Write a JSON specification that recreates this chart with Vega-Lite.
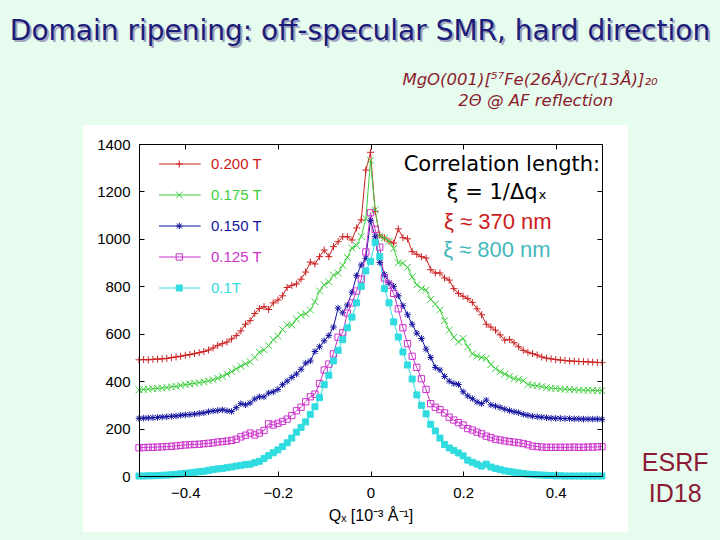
{
"$schema": "https://vega.github.io/schema/vega-lite/v6.json",
"width": 463,
"height": 332,
"autosize": {"type": "none"},
"padding": {"left": 139, "top": 144, "right": 118, "bottom": 64},
"background": "#e6fcef",
"config": {
  "view": {"stroke": null},
  "axis": {"grid": false, "domainColor": "#000000", "domainWidth": 1, "tickColor": "#000000", "tickSize": -5, "tickWidth": 1, "labelColor": "#000000", "labelFont": "Liberation Sans", "labelFontSize": 15, "titleFont": "Liberation Sans", "titleFontSize": 16, "titleFontWeight": "normal", "titleColor": "#000000"},
  "text": {"font": "Liberation Sans"}
},
"datasets": {
  "series": [{"s": "0.200 T"}, {"s": "0.175 T"}, {"s": "0.150 T"}, {"s": "0.125 T"}, {"s": "0.1T"}],
  "scans": [
{"s":"0.200 T","x":-0.5,"y":490},{"s":"0.200 T","x":-0.49,"y":491},{"s":"0.200 T","x":-0.48,"y":490},{"s":"0.200 T","x":-0.47,"y":492},{"s":"0.200 T","x":-0.46,"y":493},{"s":"0.200 T","x":-0.45,"y":494},{"s":"0.200 T","x":-0.44,"y":496},{"s":"0.200 T","x":-0.43,"y":499},{"s":"0.200 T","x":-0.42,"y":502},{"s":"0.200 T","x":-0.41,"y":505},
{"s":"0.200 T","x":-0.4,"y":509},{"s":"0.200 T","x":-0.39,"y":512},{"s":"0.200 T","x":-0.38,"y":516},{"s":"0.200 T","x":-0.37,"y":520},{"s":"0.200 T","x":-0.36,"y":525},{"s":"0.200 T","x":-0.35,"y":531},{"s":"0.200 T","x":-0.34,"y":540},{"s":"0.200 T","x":-0.33,"y":551},{"s":"0.200 T","x":-0.32,"y":558},{"s":"0.200 T","x":-0.31,"y":565},
{"s":"0.200 T","x":-0.3,"y":578},{"s":"0.200 T","x":-0.29,"y":592},{"s":"0.200 T","x":-0.28,"y":612},{"s":"0.200 T","x":-0.27,"y":640},{"s":"0.200 T","x":-0.26,"y":655},{"s":"0.200 T","x":-0.25,"y":685},{"s":"0.200 T","x":-0.24,"y":706},{"s":"0.200 T","x":-0.23,"y":714},{"s":"0.200 T","x":-0.22,"y":702},{"s":"0.200 T","x":-0.21,"y":730},
{"s":"0.200 T","x":-0.2,"y":742},{"s":"0.200 T","x":-0.19,"y":760},{"s":"0.200 T","x":-0.18,"y":795},{"s":"0.200 T","x":-0.17,"y":804},{"s":"0.200 T","x":-0.16,"y":810},{"s":"0.200 T","x":-0.15,"y":830},{"s":"0.200 T","x":-0.14,"y":860},{"s":"0.200 T","x":-0.13,"y":902},{"s":"0.200 T","x":-0.12,"y":894},{"s":"0.200 T","x":-0.11,"y":925},
{"s":"0.200 T","x":-0.1,"y":953},{"s":"0.200 T","x":-0.09,"y":925},{"s":"0.200 T","x":-0.08,"y":967},{"s":"0.200 T","x":-0.07,"y":988},{"s":"0.200 T","x":-0.06,"y":1009},{"s":"0.200 T","x":-0.05,"y":1009},{"s":"0.200 T","x":-0.04,"y":995},{"s":"0.200 T","x":-0.03,"y":1046},{"s":"0.200 T","x":-0.02,"y":1080},{"s":"0.200 T","x":-0.01,"y":1290},
{"s":"0.200 T","x":0,"y":1365},
{"s":"0.200 T","x":0.01,"y":1117},{"s":"0.200 T","x":0.02,"y":1016},{"s":"0.200 T","x":0.03,"y":1004},{"s":"0.200 T","x":0.04,"y":990},{"s":"0.200 T","x":0.05,"y":982},{"s":"0.200 T","x":0.06,"y":1042},{"s":"0.200 T","x":0.07,"y":1005},{"s":"0.200 T","x":0.08,"y":1000},{"s":"0.200 T","x":0.09,"y":946},{"s":"0.200 T","x":0.1,"y":935},
{"s":"0.200 T","x":0.11,"y":925},{"s":"0.200 T","x":0.12,"y":919},{"s":"0.200 T","x":0.13,"y":870},{"s":"0.200 T","x":0.14,"y":856},{"s":"0.200 T","x":0.15,"y":856},{"s":"0.200 T","x":0.16,"y":835},{"s":"0.200 T","x":0.17,"y":826},{"s":"0.200 T","x":0.18,"y":790},{"s":"0.200 T","x":0.19,"y":770},{"s":"0.200 T","x":0.2,"y":758},
{"s":"0.200 T","x":0.21,"y":748},{"s":"0.200 T","x":0.22,"y":732},{"s":"0.200 T","x":0.23,"y":705},{"s":"0.200 T","x":0.24,"y":680},{"s":"0.200 T","x":0.25,"y":640},{"s":"0.200 T","x":0.26,"y":628},{"s":"0.200 T","x":0.27,"y":615},{"s":"0.200 T","x":0.28,"y":595},{"s":"0.200 T","x":0.29,"y":573},{"s":"0.200 T","x":0.3,"y":576},
{"s":"0.200 T","x":0.31,"y":562},{"s":"0.200 T","x":0.32,"y":545},{"s":"0.200 T","x":0.33,"y":530},{"s":"0.200 T","x":0.34,"y":522},{"s":"0.200 T","x":0.35,"y":516},{"s":"0.200 T","x":0.36,"y":510},{"s":"0.200 T","x":0.37,"y":502},{"s":"0.200 T","x":0.38,"y":497},{"s":"0.200 T","x":0.39,"y":494},{"s":"0.200 T","x":0.4,"y":491},
{"s":"0.200 T","x":0.41,"y":489},{"s":"0.200 T","x":0.42,"y":487},{"s":"0.200 T","x":0.43,"y":485},{"s":"0.200 T","x":0.44,"y":484},{"s":"0.200 T","x":0.45,"y":483},{"s":"0.200 T","x":0.46,"y":482},{"s":"0.200 T","x":0.47,"y":481},{"s":"0.200 T","x":0.48,"y":480},{"s":"0.200 T","x":0.49,"y":479},{"s":"0.200 T","x":0.5,"y":478},

{"s":"0.175 T","x":-0.5,"y":363},{"s":"0.175 T","x":-0.49,"y":365},{"s":"0.175 T","x":-0.48,"y":366},{"s":"0.175 T","x":-0.47,"y":368},{"s":"0.175 T","x":-0.46,"y":370},{"s":"0.175 T","x":-0.45,"y":371},{"s":"0.175 T","x":-0.44,"y":373},{"s":"0.175 T","x":-0.43,"y":376},{"s":"0.175 T","x":-0.42,"y":378},{"s":"0.175 T","x":-0.41,"y":382},
{"s":"0.175 T","x":-0.4,"y":385},{"s":"0.175 T","x":-0.39,"y":388},{"s":"0.175 T","x":-0.38,"y":391},{"s":"0.175 T","x":-0.37,"y":394},{"s":"0.175 T","x":-0.36,"y":397},{"s":"0.175 T","x":-0.35,"y":401},{"s":"0.175 T","x":-0.34,"y":406},{"s":"0.175 T","x":-0.33,"y":412},{"s":"0.175 T","x":-0.32,"y":420},{"s":"0.175 T","x":-0.31,"y":430},
{"s":"0.175 T","x":-0.3,"y":440},{"s":"0.175 T","x":-0.29,"y":452},{"s":"0.175 T","x":-0.28,"y":463},{"s":"0.175 T","x":-0.27,"y":473},{"s":"0.175 T","x":-0.26,"y":482},{"s":"0.175 T","x":-0.25,"y":500},{"s":"0.175 T","x":-0.24,"y":522},{"s":"0.175 T","x":-0.23,"y":532},{"s":"0.175 T","x":-0.22,"y":550},{"s":"0.175 T","x":-0.21,"y":575},
{"s":"0.175 T","x":-0.2,"y":590},{"s":"0.175 T","x":-0.19,"y":618},{"s":"0.175 T","x":-0.18,"y":637},{"s":"0.175 T","x":-0.17,"y":637},{"s":"0.175 T","x":-0.16,"y":662},{"s":"0.175 T","x":-0.15,"y":678},{"s":"0.175 T","x":-0.14,"y":684},{"s":"0.175 T","x":-0.13,"y":700},{"s":"0.175 T","x":-0.12,"y":735},{"s":"0.175 T","x":-0.11,"y":780},
{"s":"0.175 T","x":-0.1,"y":806},{"s":"0.175 T","x":-0.09,"y":818},{"s":"0.175 T","x":-0.08,"y":847},{"s":"0.175 T","x":-0.07,"y":856},{"s":"0.175 T","x":-0.06,"y":888},{"s":"0.175 T","x":-0.05,"y":922},{"s":"0.175 T","x":-0.04,"y":962},{"s":"0.175 T","x":-0.03,"y":972},{"s":"0.175 T","x":-0.02,"y":1010},{"s":"0.175 T","x":-0.01,"y":1085},
{"s":"0.175 T","x":0,"y":1330},
{"s":"0.175 T","x":0.01,"y":1122},{"s":"0.175 T","x":0.02,"y":1010},{"s":"0.175 T","x":0.03,"y":1004},{"s":"0.175 T","x":0.04,"y":990},{"s":"0.175 T","x":0.05,"y":960},{"s":"0.175 T","x":0.06,"y":899},{"s":"0.175 T","x":0.07,"y":897},{"s":"0.175 T","x":0.08,"y":880},{"s":"0.175 T","x":0.09,"y":840},{"s":"0.175 T","x":0.1,"y":806},
{"s":"0.175 T","x":0.11,"y":791},{"s":"0.175 T","x":0.12,"y":784},{"s":"0.175 T","x":0.13,"y":745},{"s":"0.175 T","x":0.14,"y":725},{"s":"0.175 T","x":0.15,"y":700},{"s":"0.175 T","x":0.16,"y":655},{"s":"0.175 T","x":0.17,"y":615},{"s":"0.175 T","x":0.18,"y":585},{"s":"0.175 T","x":0.19,"y":565},{"s":"0.175 T","x":0.2,"y":580},
{"s":"0.175 T","x":0.21,"y":545},{"s":"0.175 T","x":0.22,"y":515},{"s":"0.175 T","x":0.23,"y":505},{"s":"0.175 T","x":0.24,"y":500},{"s":"0.175 T","x":0.25,"y":496},{"s":"0.175 T","x":0.26,"y":470},{"s":"0.175 T","x":0.27,"y":453},{"s":"0.175 T","x":0.28,"y":440},{"s":"0.175 T","x":0.29,"y":430},{"s":"0.175 T","x":0.3,"y":420},
{"s":"0.175 T","x":0.31,"y":411},{"s":"0.175 T","x":0.32,"y":407},{"s":"0.175 T","x":0.33,"y":402},{"s":"0.175 T","x":0.34,"y":386},{"s":"0.175 T","x":0.35,"y":383},{"s":"0.175 T","x":0.36,"y":380},{"s":"0.175 T","x":0.37,"y":377},{"s":"0.175 T","x":0.38,"y":373},{"s":"0.175 T","x":0.39,"y":370},{"s":"0.175 T","x":0.4,"y":369},
{"s":"0.175 T","x":0.41,"y":367},{"s":"0.175 T","x":0.42,"y":366},{"s":"0.175 T","x":0.43,"y":365},{"s":"0.175 T","x":0.44,"y":364},{"s":"0.175 T","x":0.45,"y":363},{"s":"0.175 T","x":0.46,"y":362},{"s":"0.175 T","x":0.47,"y":362},{"s":"0.175 T","x":0.48,"y":361},{"s":"0.175 T","x":0.49,"y":360},{"s":"0.175 T","x":0.5,"y":360},

{"s":"0.150 T","x":-0.5,"y":243},{"s":"0.150 T","x":-0.49,"y":244},{"s":"0.150 T","x":-0.48,"y":245},{"s":"0.150 T","x":-0.47,"y":246},{"s":"0.150 T","x":-0.46,"y":247},{"s":"0.150 T","x":-0.45,"y":249},{"s":"0.150 T","x":-0.44,"y":250},{"s":"0.150 T","x":-0.43,"y":252},{"s":"0.150 T","x":-0.42,"y":253},{"s":"0.150 T","x":-0.41,"y":256},
{"s":"0.150 T","x":-0.4,"y":258},{"s":"0.150 T","x":-0.39,"y":259},{"s":"0.150 T","x":-0.38,"y":261},{"s":"0.150 T","x":-0.37,"y":264},{"s":"0.150 T","x":-0.36,"y":266},{"s":"0.150 T","x":-0.35,"y":271},{"s":"0.150 T","x":-0.34,"y":274},{"s":"0.150 T","x":-0.33,"y":276},{"s":"0.150 T","x":-0.32,"y":279},{"s":"0.150 T","x":-0.31,"y":275},
{"s":"0.150 T","x":-0.3,"y":272},{"s":"0.150 T","x":-0.29,"y":288},{"s":"0.150 T","x":-0.28,"y":305},{"s":"0.150 T","x":-0.27,"y":300},{"s":"0.150 T","x":-0.26,"y":308},{"s":"0.150 T","x":-0.25,"y":325},{"s":"0.150 T","x":-0.24,"y":334},{"s":"0.150 T","x":-0.23,"y":334},{"s":"0.150 T","x":-0.22,"y":350},{"s":"0.150 T","x":-0.21,"y":355},
{"s":"0.150 T","x":-0.2,"y":365},{"s":"0.150 T","x":-0.19,"y":385},{"s":"0.150 T","x":-0.18,"y":400},{"s":"0.150 T","x":-0.17,"y":416},{"s":"0.150 T","x":-0.16,"y":430},{"s":"0.150 T","x":-0.15,"y":450},{"s":"0.150 T","x":-0.14,"y":476},{"s":"0.150 T","x":-0.13,"y":485},{"s":"0.150 T","x":-0.12,"y":525},{"s":"0.150 T","x":-0.11,"y":545},
{"s":"0.150 T","x":-0.1,"y":570},{"s":"0.150 T","x":-0.09,"y":592},{"s":"0.150 T","x":-0.08,"y":628},{"s":"0.150 T","x":-0.07,"y":708},{"s":"0.150 T","x":-0.06,"y":688},{"s":"0.150 T","x":-0.05,"y":721},{"s":"0.150 T","x":-0.04,"y":775},{"s":"0.150 T","x":-0.03,"y":845},{"s":"0.150 T","x":-0.02,"y":890},{"s":"0.150 T","x":-0.01,"y":918},
{"s":"0.150 T","x":0,"y":1078},
{"s":"0.150 T","x":0.01,"y":1009},{"s":"0.150 T","x":0.02,"y":900},{"s":"0.150 T","x":0.03,"y":850},{"s":"0.150 T","x":0.04,"y":815},{"s":"0.150 T","x":0.05,"y":800},{"s":"0.150 T","x":0.06,"y":760},{"s":"0.150 T","x":0.07,"y":718},{"s":"0.150 T","x":0.08,"y":680},{"s":"0.150 T","x":0.09,"y":640},{"s":"0.150 T","x":0.1,"y":602},
{"s":"0.150 T","x":0.11,"y":580},{"s":"0.150 T","x":0.12,"y":535},{"s":"0.150 T","x":0.13,"y":500},{"s":"0.150 T","x":0.14,"y":458},{"s":"0.150 T","x":0.15,"y":447},{"s":"0.150 T","x":0.16,"y":420},{"s":"0.150 T","x":0.17,"y":400},{"s":"0.150 T","x":0.18,"y":390},{"s":"0.150 T","x":0.19,"y":386},{"s":"0.150 T","x":0.2,"y":355},
{"s":"0.150 T","x":0.21,"y":338},{"s":"0.150 T","x":0.22,"y":326},{"s":"0.150 T","x":0.23,"y":312},{"s":"0.150 T","x":0.24,"y":305},{"s":"0.150 T","x":0.25,"y":320},{"s":"0.150 T","x":0.26,"y":300},{"s":"0.150 T","x":0.27,"y":295},{"s":"0.150 T","x":0.28,"y":289},{"s":"0.150 T","x":0.29,"y":282},{"s":"0.150 T","x":0.3,"y":276},
{"s":"0.150 T","x":0.31,"y":271},{"s":"0.150 T","x":0.32,"y":267},{"s":"0.150 T","x":0.33,"y":260},{"s":"0.150 T","x":0.34,"y":256},{"s":"0.150 T","x":0.35,"y":252},{"s":"0.150 T","x":0.36,"y":250},{"s":"0.150 T","x":0.37,"y":248},{"s":"0.150 T","x":0.38,"y":246},{"s":"0.150 T","x":0.39,"y":244},{"s":"0.150 T","x":0.4,"y":243},
{"s":"0.150 T","x":0.41,"y":243},{"s":"0.150 T","x":0.42,"y":242},{"s":"0.150 T","x":0.43,"y":242},{"s":"0.150 T","x":0.44,"y":241},{"s":"0.150 T","x":0.45,"y":241},{"s":"0.150 T","x":0.46,"y":240},{"s":"0.150 T","x":0.47,"y":240},{"s":"0.150 T","x":0.48,"y":240},{"s":"0.150 T","x":0.49,"y":240},{"s":"0.150 T","x":0.5,"y":239},

{"s":"0.125 T","x":-0.5,"y":119},{"s":"0.125 T","x":-0.49,"y":120},{"s":"0.125 T","x":-0.48,"y":121},{"s":"0.125 T","x":-0.47,"y":121},{"s":"0.125 T","x":-0.46,"y":122},{"s":"0.125 T","x":-0.45,"y":123},{"s":"0.125 T","x":-0.44,"y":124},{"s":"0.125 T","x":-0.43,"y":125},{"s":"0.125 T","x":-0.42,"y":127},{"s":"0.125 T","x":-0.41,"y":129},
{"s":"0.125 T","x":-0.4,"y":131},{"s":"0.125 T","x":-0.39,"y":132},{"s":"0.125 T","x":-0.38,"y":133},{"s":"0.125 T","x":-0.37,"y":134},{"s":"0.125 T","x":-0.36,"y":136},{"s":"0.125 T","x":-0.35,"y":138},{"s":"0.125 T","x":-0.34,"y":140},{"s":"0.125 T","x":-0.33,"y":143},{"s":"0.125 T","x":-0.32,"y":145},{"s":"0.125 T","x":-0.31,"y":147},
{"s":"0.125 T","x":-0.3,"y":150},{"s":"0.125 T","x":-0.29,"y":155},{"s":"0.125 T","x":-0.28,"y":165},{"s":"0.125 T","x":-0.27,"y":172},{"s":"0.125 T","x":-0.26,"y":181},{"s":"0.125 T","x":-0.25,"y":173},{"s":"0.125 T","x":-0.24,"y":181},{"s":"0.125 T","x":-0.23,"y":192},{"s":"0.125 T","x":-0.22,"y":220},{"s":"0.125 T","x":-0.21,"y":215},
{"s":"0.125 T","x":-0.2,"y":222},{"s":"0.125 T","x":-0.19,"y":230},{"s":"0.125 T","x":-0.18,"y":240},{"s":"0.125 T","x":-0.17,"y":255},{"s":"0.125 T","x":-0.16,"y":275},{"s":"0.125 T","x":-0.15,"y":290},{"s":"0.125 T","x":-0.14,"y":313},{"s":"0.125 T","x":-0.13,"y":334},{"s":"0.125 T","x":-0.12,"y":345},{"s":"0.125 T","x":-0.11,"y":390},
{"s":"0.125 T","x":-0.1,"y":447},{"s":"0.125 T","x":-0.09,"y":472},{"s":"0.125 T","x":-0.08,"y":515},{"s":"0.125 T","x":-0.07,"y":585},{"s":"0.125 T","x":-0.06,"y":604},{"s":"0.125 T","x":-0.05,"y":687},{"s":"0.125 T","x":-0.04,"y":730},{"s":"0.125 T","x":-0.03,"y":780},{"s":"0.125 T","x":-0.02,"y":830},{"s":"0.125 T","x":-0.01,"y":945},
{"s":"0.125 T","x":0,"y":1110},
{"s":"0.125 T","x":0.01,"y":1040},{"s":"0.125 T","x":0.02,"y":965},{"s":"0.125 T","x":0.03,"y":835},{"s":"0.125 T","x":0.04,"y":805},{"s":"0.125 T","x":0.05,"y":770},{"s":"0.125 T","x":0.06,"y":705},{"s":"0.125 T","x":0.07,"y":625},{"s":"0.125 T","x":0.08,"y":558},{"s":"0.125 T","x":0.09,"y":505},{"s":"0.125 T","x":0.1,"y":458},
{"s":"0.125 T","x":0.11,"y":410},{"s":"0.125 T","x":0.12,"y":365},{"s":"0.125 T","x":0.13,"y":305},{"s":"0.125 T","x":0.14,"y":290},{"s":"0.125 T","x":0.15,"y":280},{"s":"0.125 T","x":0.16,"y":266},{"s":"0.125 T","x":0.17,"y":248},{"s":"0.125 T","x":0.18,"y":236},{"s":"0.125 T","x":0.19,"y":225},{"s":"0.125 T","x":0.2,"y":215},
{"s":"0.125 T","x":0.21,"y":200},{"s":"0.125 T","x":0.22,"y":194},{"s":"0.125 T","x":0.23,"y":185},{"s":"0.125 T","x":0.24,"y":178},{"s":"0.125 T","x":0.25,"y":168},{"s":"0.125 T","x":0.26,"y":162},{"s":"0.125 T","x":0.27,"y":155},{"s":"0.125 T","x":0.28,"y":152},{"s":"0.125 T","x":0.29,"y":148},{"s":"0.125 T","x":0.3,"y":145},
{"s":"0.125 T","x":0.31,"y":143},{"s":"0.125 T","x":0.32,"y":140},{"s":"0.125 T","x":0.33,"y":137},{"s":"0.125 T","x":0.34,"y":132},{"s":"0.125 T","x":0.35,"y":126},{"s":"0.125 T","x":0.36,"y":124},{"s":"0.125 T","x":0.37,"y":122},{"s":"0.125 T","x":0.38,"y":121},{"s":"0.125 T","x":0.39,"y":121},{"s":"0.125 T","x":0.4,"y":121},
{"s":"0.125 T","x":0.41,"y":121},{"s":"0.125 T","x":0.42,"y":121},{"s":"0.125 T","x":0.43,"y":121},{"s":"0.125 T","x":0.44,"y":122},{"s":"0.125 T","x":0.45,"y":121},{"s":"0.125 T","x":0.46,"y":121},{"s":"0.125 T","x":0.47,"y":122},{"s":"0.125 T","x":0.48,"y":122},{"s":"0.125 T","x":0.49,"y":123},{"s":"0.125 T","x":0.5,"y":124},

{"s":"0.1T","x":-0.5,"y":0},{"s":"0.1T","x":-0.49,"y":0},{"s":"0.1T","x":-0.48,"y":1},{"s":"0.1T","x":-0.47,"y":1},{"s":"0.1T","x":-0.46,"y":2},{"s":"0.1T","x":-0.45,"y":3},{"s":"0.1T","x":-0.44,"y":4},{"s":"0.1T","x":-0.43,"y":5},{"s":"0.1T","x":-0.42,"y":7},{"s":"0.1T","x":-0.41,"y":9},
{"s":"0.1T","x":-0.4,"y":11},{"s":"0.1T","x":-0.39,"y":13},{"s":"0.1T","x":-0.38,"y":16},{"s":"0.1T","x":-0.37,"y":18},{"s":"0.1T","x":-0.36,"y":20},{"s":"0.1T","x":-0.35,"y":24},{"s":"0.1T","x":-0.34,"y":27},{"s":"0.1T","x":-0.33,"y":30},{"s":"0.1T","x":-0.32,"y":32},{"s":"0.1T","x":-0.31,"y":35},
{"s":"0.1T","x":-0.3,"y":38},{"s":"0.1T","x":-0.29,"y":42},{"s":"0.1T","x":-0.28,"y":45},{"s":"0.1T","x":-0.27,"y":48},{"s":"0.1T","x":-0.26,"y":50},{"s":"0.1T","x":-0.25,"y":56},{"s":"0.1T","x":-0.24,"y":62},{"s":"0.1T","x":-0.23,"y":74},{"s":"0.1T","x":-0.22,"y":86},{"s":"0.1T","x":-0.21,"y":98},
{"s":"0.1T","x":-0.2,"y":110},{"s":"0.1T","x":-0.19,"y":124},{"s":"0.1T","x":-0.18,"y":140},{"s":"0.1T","x":-0.17,"y":160},{"s":"0.1T","x":-0.16,"y":185},{"s":"0.1T","x":-0.15,"y":205},{"s":"0.1T","x":-0.14,"y":228},{"s":"0.1T","x":-0.13,"y":260},{"s":"0.1T","x":-0.12,"y":292},{"s":"0.1T","x":-0.11,"y":330},
{"s":"0.1T","x":-0.1,"y":385},{"s":"0.1T","x":-0.09,"y":425},{"s":"0.1T","x":-0.08,"y":485},{"s":"0.1T","x":-0.07,"y":530},{"s":"0.1T","x":-0.06,"y":575},{"s":"0.1T","x":-0.05,"y":625},{"s":"0.1T","x":-0.04,"y":670},{"s":"0.1T","x":-0.03,"y":730},{"s":"0.1T","x":-0.02,"y":800},{"s":"0.1T","x":-0.01,"y":865},
{"s":"0.1T","x":0,"y":905},
{"s":"0.1T","x":0.01,"y":985},{"s":"0.1T","x":0.02,"y":925},{"s":"0.1T","x":0.03,"y":790},{"s":"0.1T","x":0.04,"y":730},{"s":"0.1T","x":0.05,"y":650},{"s":"0.1T","x":0.06,"y":586},{"s":"0.1T","x":0.07,"y":523},{"s":"0.1T","x":0.08,"y":468},{"s":"0.1T","x":0.09,"y":409},{"s":"0.1T","x":0.1,"y":342},
{"s":"0.1T","x":0.11,"y":298},{"s":"0.1T","x":0.12,"y":262},{"s":"0.1T","x":0.13,"y":218},{"s":"0.1T","x":0.14,"y":190},{"s":"0.1T","x":0.15,"y":160},{"s":"0.1T","x":0.16,"y":133},{"s":"0.1T","x":0.17,"y":118},{"s":"0.1T","x":0.18,"y":108},{"s":"0.1T","x":0.19,"y":97},{"s":"0.1T","x":0.2,"y":85},
{"s":"0.1T","x":0.21,"y":67},{"s":"0.1T","x":0.22,"y":58},{"s":"0.1T","x":0.23,"y":50},{"s":"0.1T","x":0.24,"y":42},{"s":"0.1T","x":0.25,"y":50},{"s":"0.1T","x":0.26,"y":38},{"s":"0.1T","x":0.27,"y":32},{"s":"0.1T","x":0.28,"y":27},{"s":"0.1T","x":0.29,"y":22},{"s":"0.1T","x":0.3,"y":19},
{"s":"0.1T","x":0.31,"y":16},{"s":"0.1T","x":0.32,"y":13},{"s":"0.1T","x":0.33,"y":10},{"s":"0.1T","x":0.34,"y":8},{"s":"0.1T","x":0.35,"y":6},{"s":"0.1T","x":0.36,"y":5},{"s":"0.1T","x":0.37,"y":4},{"s":"0.1T","x":0.38,"y":3},{"s":"0.1T","x":0.39,"y":2},{"s":"0.1T","x":0.4,"y":1},
{"s":"0.1T","x":0.41,"y":1},{"s":"0.1T","x":0.42,"y":0},{"s":"0.1T","x":0.43,"y":0},{"s":"0.1T","x":0.44,"y":0},{"s":"0.1T","x":0.45,"y":0},{"s":"0.1T","x":0.46,"y":0},{"s":"0.1T","x":0.47,"y":0},{"s":"0.1T","x":0.48,"y":0},{"s":"0.1T","x":0.49,"y":0},{"s":"0.1T","x":0.5,"y":0}
  ]
},
"layer": [
  {
    "layer": [
      {
        "data": {"values": [{}]},
        "mark": {"type": "rect", "fill": "#ffffff"},
        "encoding": {
          "x": {"datum": -0.621, "type": "quantitative", "axis": null},
          "x2": {"datum": 0.556},
          "y": {"datum": -236, "type": "quantitative", "axis": null},
          "y2": {"datum": 1480}
        }
      },
      {
        "data": {"name": "scans"},
        "mark": {"type": "line", "strokeWidth": 1},
        "encoding": {
          "x": {"field": "x", "type": "quantitative", "scale": {"domain": [-0.5, 0.5], "nice": false, "zero": false},
                "axis": {"orient": "bottom", "zindex": 2, "values": [-0.4, -0.2, 0, 0.2, 0.4], "labelExpr": "datum.value == 0 ? '0' : format(datum.value, '.1f')", "labelPadding": 14, "title": "Qₓ [10⁻³ Å⁻¹]", "titlePadding": 7}},
          "y": {"field": "y", "type": "quantitative", "scale": {"domain": [0, 1400], "nice": false},
                "axis": {"orient": "left", "zindex": 2, "values": [0, 200, 400, 600, 800, 1000, 1200, 1400], "format": "d", "labelPadding": 14, "title": null}},
          "color": {"field": "s", "type": "nominal", "scale": {"domain": ["0.200 T", "0.175 T", "0.150 T", "0.125 T", "0.1T"], "range": ["#cc2020", "#3fcf3f", "#1414a0", "#cc33cc", "#30dce0"]}, "legend": null}
        }
      },
      {
        "data": {"name": "scans"},
        "mark": {"type": "point", "filled": false, "strokeWidth": 1, "opacity": 1},
        "encoding": {
          "x": {"field": "x", "type": "quantitative", "axis": {"orient": "top", "zindex": 2, "values": [-0.4, -0.2, 0, 0.2, 0.4], "labels": false, "title": null}},
          "y": {"field": "y", "type": "quantitative", "axis": {"orient": "right", "zindex": 2, "values": [0, 200, 400, 600, 800, 1000, 1200, 1400], "labels": false, "title": null}},
          "color": {"field": "s", "type": "nominal", "legend": null},
          "shape": {"field": "s", "type": "nominal", "scale": {"domain": ["0.200 T", "0.175 T", "0.150 T", "0.125 T", "0.1T"], "range": ["M-1,0H1M0,-1V1", "M-1,-1L1,1M-1,1L1,-1", "M-1,0H1M0,-1V1M-0.75,-0.75L0.75,0.75M-0.75,0.75L0.75,-0.75", "square", "square"]}, "legend": null},
          "fill": {"field": "s", "type": "nominal", "scale": {"domain": ["0.200 T", "0.175 T", "0.150 T", "0.125 T", "0.1T"], "range": ["transparent", "transparent", "transparent", "transparent", "#30dce0"]}, "legend": null},
          "size": {"field": "s", "type": "nominal", "scale": {"domain": ["0.200 T", "0.175 T", "0.150 T", "0.125 T", "0.1T"], "range": [49, 36, 30, 36, 28]}, "legend": null}
        }
      },
      {
        "data": {"values": [{}]},
        "mark": {"type": "text", "font": "DejaVu Sans", "fontSize": 28, "fill": "#a4a4bc", "align": "center", "baseline": "middle", "dx": 2, "dy": 2},
        "encoding": {"x": {"datum": -0.0227, "type": "quantitative", "axis": null}, "y": {"datum": 1872, "type": "quantitative", "axis": null}, "text": {"value": "Domain ripening: off-specular SMR, hard direction"}}
      },
      {
        "data": {"values": [{}]},
        "mark": {"type": "text", "font": "DejaVu Sans", "fontSize": 28, "fill": "#1c1c7a", "align": "center", "baseline": "middle"},
        "encoding": {"x": {"datum": -0.0227, "type": "quantitative", "axis": null}, "y": {"datum": 1872, "type": "quantitative", "axis": null}, "text": {"value": "Domain ripening: off-specular SMR, hard direction"}}
      },
      {
        "data": {"values": [{}]},
        "mark": {"type": "text", "font": "DejaVu Sans", "fontSize": 16.5, "fontStyle": "italic", "fill": "#8b1c2e", "align": "center", "baseline": "middle"},
        "encoding": {"x": {"datum": 0.3445, "type": "quantitative", "axis": null}, "y": {"datum": 1670, "type": "quantitative", "axis": null}, "text": {"value": "MgO(001)[⁵⁷Fe(26Å)/Cr(13Å)]₂₀"}}
      },
      {
        "data": {"values": [{}]},
        "mark": {"type": "text", "font": "DejaVu Sans", "fontSize": 16.5, "fontStyle": "italic", "fill": "#8b1c2e", "align": "center", "baseline": "middle"},
        "encoding": {"x": {"datum": 0.357, "type": "quantitative", "axis": null}, "y": {"datum": 1581, "type": "quantitative", "axis": null}, "text": {"value": "2Θ @ AF reflection"}}
      },
      {
        "data": {"values": [{}]},
        "mark": {"type": "text", "font": "DejaVu Sans", "fontSize": 21, "fill": "#000000", "align": "right", "baseline": "middle"},
        "encoding": {"x": {"datum": 0.496, "type": "quantitative", "axis": null}, "y": {"datum": 1311, "type": "quantitative", "axis": null}, "text": {"value": "Correlation length:"}}
      },
      {
        "data": {"values": [{}]},
        "mark": {"type": "text", "font": "DejaVu Sans", "fontSize": 21, "fill": "#000000", "align": "center", "baseline": "middle"},
        "encoding": {"x": {"datum": 0.273, "type": "quantitative", "axis": null}, "y": {"datum": 1193, "type": "quantitative", "axis": null}, "text": {"value": "ξ = 1/Δqₓ"}}
      },
      {
        "data": {"values": [{}]},
        "mark": {"type": "text", "font": "Liberation Sans", "fontSize": 22, "fill": "#cc2020", "align": "center", "baseline": "middle"},
        "encoding": {"x": {"datum": 0.275, "type": "quantitative", "axis": null}, "y": {"datum": 1071, "type": "quantitative", "axis": null}, "text": {"value": "ξ ≈ 370 nm"}}
      },
      {
        "data": {"values": [{}]},
        "mark": {"type": "text", "font": "Liberation Sans", "fontSize": 22, "fill": "#45b8bc", "align": "center", "baseline": "middle"},
        "encoding": {"x": {"datum": 0.273, "type": "quantitative", "axis": null}, "y": {"datum": 953, "type": "quantitative", "axis": null}, "text": {"value": "ξ ≈ 800 nm"}}
      },
      {
        "data": {"values": [{}]},
        "mark": {"type": "text", "font": "Liberation Sans", "fontSize": 25, "fill": "#8b1a35", "align": "center", "baseline": "middle"},
        "encoding": {"x": {"datum": 0.658, "type": "quantitative", "axis": null}, "y": {"datum": 55, "type": "quantitative", "axis": null}, "text": {"value": "ESRF"}}
      },
      {
        "data": {"values": [{}]},
        "mark": {"type": "text", "font": "Liberation Sans", "fontSize": 25, "fill": "#8b1a35", "align": "center", "baseline": "middle"},
        "encoding": {"x": {"datum": 0.658, "type": "quantitative", "axis": null}, "y": {"datum": -76, "type": "quantitative", "axis": null}, "text": {"value": "ID18"}}
      }
    ],
    "resolve": {"axis": {"x": "independent", "y": "independent"}}
  },
  {
    "data": {"name": "series"},
    "encoding": {
      "y": {"field": "s", "type": "nominal", "scale": {"type": "point", "domain": ["0.200 T", "0.175 T", "0.150 T", "0.125 T", "0.1T"], "range": [20, 144], "padding": 0}, "axis": null}
    },
    "layer": [
      {
        "mark": {"type": "rule", "strokeWidth": 1},
        "encoding": {
          "x": {"datum": -0.4568, "type": "quantitative", "axis": null},
          "x2": {"datum": -0.3667},
          "color": {"field": "s", "type": "nominal", "legend": null}
        }
      },
      {
        "mark": {"type": "point", "filled": false, "strokeWidth": 1, "opacity": 1},
        "encoding": {
          "x": {"datum": -0.413, "type": "quantitative", "axis": null},
          "color": {"field": "s", "type": "nominal", "legend": null},
          "shape": {"field": "s", "type": "nominal", "legend": null},
          "fill": {"field": "s", "type": "nominal", "legend": null},
          "size": {"field": "s", "type": "nominal", "legend": null}
        }
      },
      {
        "mark": {"type": "text", "font": "Liberation Sans", "fontSize": 15, "align": "left", "baseline": "middle"},
        "encoding": {
          "x": {"datum": -0.3445, "type": "quantitative", "axis": null},
          "text": {"field": "s", "type": "nominal"},
          "color": {"field": "s", "type": "nominal", "legend": null}
        }
      }
    ]
  }
],
"resolve": {"scale": {"y": "independent"}}
}
